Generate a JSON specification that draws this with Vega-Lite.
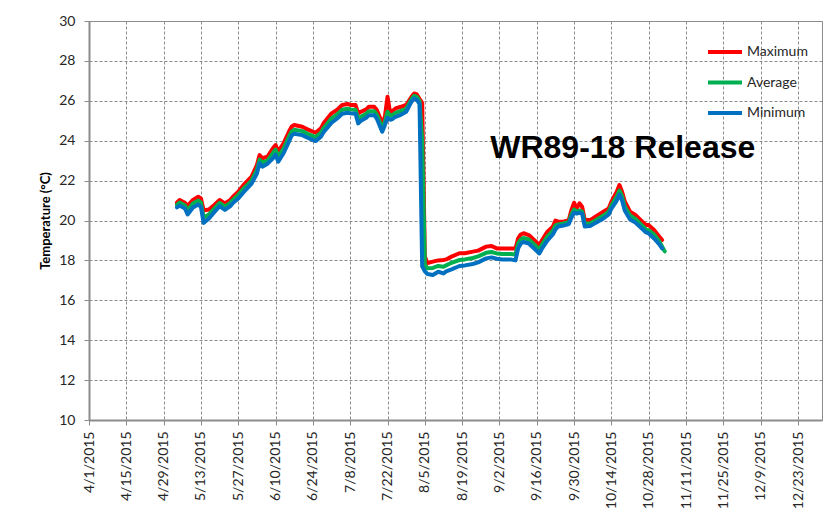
{
  "$schema": "https://vega.github.io/schema/vega-lite/v6.json",
  "width": 733,
  "height": 399,
  "autosize": {"type": "none"},
  "padding": {"left": 89, "top": 21, "right": 13, "bottom": 100},
  "background": "white",
  "config": {
    "font": "Lato",
    "view": {"stroke": "#8c8c8c", "strokeWidth": 1},
    "axis": {
      "domainColor": "#8c8c8c",
      "domainWidth": 2,
      "tickColor": "#8c8c8c",
      "tickSize": 5,
      "tickWidth": 1,
      "gridColor": "#8c8c8c",
      "gridDash": [3, 2],
      "gridWidth": 1,
      "labelColor": "#262626",
      "labelFontSize": 14,
      "labelFont": "Lato"
    }
  },
  "layer": [
    {
      "data": {
        "values": [
          {"date": "2015/05/04", "Maximum": 20.89, "Average": 20.78, "Minimum": 20.66},
          {"date": "2015/05/05", "Maximum": 21.03, "Average": 20.9, "Minimum": 20.75},
          {"date": "2015/05/07", "Maximum": 20.89, "Average": 20.75, "Minimum": 20.6},
          {"date": "2015/05/08", "Maximum": 20.73, "Average": 20.5, "Minimum": 20.3},
          {"date": "2015/05/10", "Maximum": 21.03, "Average": 20.85, "Minimum": 20.65},
          {"date": "2015/05/12", "Maximum": 21.19, "Average": 21.0, "Minimum": 20.8},
          {"date": "2015/05/13", "Maximum": 21.11, "Average": 20.9, "Minimum": 20.68},
          {"date": "2015/05/14", "Maximum": 20.5, "Average": 20.15, "Minimum": 19.88},
          {"date": "2015/05/16", "Maximum": 20.55, "Average": 20.3, "Minimum": 20.1},
          {"date": "2015/05/18", "Maximum": 20.78, "Average": 20.6, "Minimum": 20.42},
          {"date": "2015/05/20", "Maximum": 21.03, "Average": 20.88, "Minimum": 20.72},
          {"date": "2015/05/22", "Maximum": 20.86, "Average": 20.7, "Minimum": 20.53},
          {"date": "2015/05/24", "Maximum": 21.03, "Average": 20.88, "Minimum": 20.72},
          {"date": "2015/05/25", "Maximum": 21.19, "Average": 21.03, "Minimum": 20.88},
          {"date": "2015/05/27", "Maximum": 21.44, "Average": 21.28, "Minimum": 21.1},
          {"date": "2015/05/29", "Maximum": 21.78, "Average": 21.6, "Minimum": 21.42},
          {"date": "2015/06/01", "Maximum": 22.2, "Average": 22.0, "Minimum": 21.85},
          {"date": "2015/06/03", "Maximum": 22.78, "Average": 22.55, "Minimum": 22.35},
          {"date": "2015/06/04", "Maximum": 23.28, "Average": 23.05, "Minimum": 22.87},
          {"date": "2015/06/05", "Maximum": 23.12, "Average": 22.9, "Minimum": 22.7},
          {"date": "2015/06/07", "Maximum": 23.2, "Average": 23.0, "Minimum": 22.85},
          {"date": "2015/06/09", "Maximum": 23.62, "Average": 23.38, "Minimum": 23.12},
          {"date": "2015/06/10", "Maximum": 23.78, "Average": 23.55, "Minimum": 23.3},
          {"date": "2015/06/11", "Maximum": 23.45, "Average": 23.2, "Minimum": 22.95},
          {"date": "2015/06/13", "Maximum": 23.87, "Average": 23.6, "Minimum": 23.37},
          {"date": "2015/06/15", "Maximum": 24.45, "Average": 24.2, "Minimum": 23.95},
          {"date": "2015/06/16", "Maximum": 24.7, "Average": 24.45, "Minimum": 24.25},
          {"date": "2015/06/17", "Maximum": 24.79, "Average": 24.55, "Minimum": 24.35},
          {"date": "2015/06/20", "Maximum": 24.7, "Average": 24.48, "Minimum": 24.28},
          {"date": "2015/06/22", "Maximum": 24.57, "Average": 24.35, "Minimum": 24.15},
          {"date": "2015/06/25", "Maximum": 24.4, "Average": 24.18, "Minimum": 23.98},
          {"date": "2015/06/27", "Maximum": 24.62, "Average": 24.4, "Minimum": 24.2},
          {"date": "2015/06/28", "Maximum": 24.87, "Average": 24.62, "Minimum": 24.42},
          {"date": "2015/07/01", "Maximum": 25.37, "Average": 25.12, "Minimum": 24.9},
          {"date": "2015/07/03", "Maximum": 25.54, "Average": 25.3, "Minimum": 25.1},
          {"date": "2015/07/05", "Maximum": 25.79, "Average": 25.55, "Minimum": 25.35},
          {"date": "2015/07/07", "Maximum": 25.84, "Average": 25.6, "Minimum": 25.4},
          {"date": "2015/07/08", "Maximum": 25.79, "Average": 25.57, "Minimum": 25.38},
          {"date": "2015/07/10", "Maximum": 25.79, "Average": 25.55, "Minimum": 25.35},
          {"date": "2015/07/11", "Maximum": 25.37, "Average": 25.1, "Minimum": 24.87},
          {"date": "2015/07/12", "Maximum": 25.45, "Average": 25.2, "Minimum": 25.0},
          {"date": "2015/07/14", "Maximum": 25.57, "Average": 25.35, "Minimum": 25.15},
          {"date": "2015/07/15", "Maximum": 25.7, "Average": 25.48, "Minimum": 25.28},
          {"date": "2015/07/17", "Maximum": 25.7, "Average": 25.48, "Minimum": 25.28},
          {"date": "2015/07/18", "Maximum": 25.54, "Average": 25.3, "Minimum": 25.1},
          {"date": "2015/07/20", "Maximum": 24.87, "Average": 24.62, "Minimum": 24.45},
          {"date": "2015/07/21", "Maximum": 25.2, "Average": 24.95, "Minimum": 24.78},
          {"date": "2015/07/22", "Maximum": 26.2, "Average": 25.45, "Minimum": 25.15},
          {"date": "2015/07/23", "Maximum": 25.4, "Average": 25.25, "Minimum": 25.05},
          {"date": "2015/07/24", "Maximum": 25.5, "Average": 25.3, "Minimum": 25.1},
          {"date": "2015/07/25", "Maximum": 25.62, "Average": 25.4, "Minimum": 25.2},
          {"date": "2015/07/27", "Maximum": 25.7, "Average": 25.5, "Minimum": 25.3},
          {"date": "2015/07/29", "Maximum": 25.79, "Average": 25.6, "Minimum": 25.45},
          {"date": "2015/07/31", "Maximum": 26.2, "Average": 26.08, "Minimum": 25.96},
          {"date": "2015/08/01", "Maximum": 26.37, "Average": 26.25, "Minimum": 26.12},
          {"date": "2015/08/02", "Maximum": 26.32, "Average": 26.2, "Minimum": 26.05},
          {"date": "2015/08/03", "Maximum": 26.1, "Average": 26.0, "Minimum": 25.85},
          {"date": "2015/08/04", "Maximum": 25.9, "Average": 24.0, "Minimum": 17.7},
          {"date": "2015/08/05", "Maximum": 18.2, "Average": 17.8, "Minimum": 17.45},
          {"date": "2015/08/06", "Maximum": 17.86, "Average": 17.6, "Minimum": 17.32},
          {"date": "2015/08/08", "Maximum": 17.94, "Average": 17.62, "Minimum": 17.27},
          {"date": "2015/08/10", "Maximum": 18.0, "Average": 17.72, "Minimum": 17.43},
          {"date": "2015/08/12", "Maximum": 18.02, "Average": 17.68, "Minimum": 17.35},
          {"date": "2015/08/13", "Maximum": 18.05, "Average": 17.75, "Minimum": 17.45},
          {"date": "2015/08/15", "Maximum": 18.19, "Average": 17.88, "Minimum": 17.55},
          {"date": "2015/08/18", "Maximum": 18.36, "Average": 18.02, "Minimum": 17.72},
          {"date": "2015/08/20", "Maximum": 18.36, "Average": 18.05, "Minimum": 17.75},
          {"date": "2015/08/23", "Maximum": 18.44, "Average": 18.12, "Minimum": 17.82},
          {"date": "2015/08/25", "Maximum": 18.49, "Average": 18.2, "Minimum": 17.9},
          {"date": "2015/08/28", "Maximum": 18.69, "Average": 18.38, "Minimum": 18.1},
          {"date": "2015/08/30", "Maximum": 18.72, "Average": 18.42, "Minimum": 18.15},
          {"date": "2015/09/01", "Maximum": 18.6, "Average": 18.35, "Minimum": 18.08},
          {"date": "2015/09/03", "Maximum": 18.6, "Average": 18.32, "Minimum": 18.05},
          {"date": "2015/09/06", "Maximum": 18.6, "Average": 18.32, "Minimum": 18.05},
          {"date": "2015/09/08", "Maximum": 18.6, "Average": 18.3, "Minimum": 18.0},
          {"date": "2015/09/09", "Maximum": 19.1, "Average": 18.85, "Minimum": 18.6},
          {"date": "2015/09/10", "Maximum": 19.3, "Average": 19.05, "Minimum": 18.85},
          {"date": "2015/09/11", "Maximum": 19.36, "Average": 19.12, "Minimum": 18.92},
          {"date": "2015/09/13", "Maximum": 19.27, "Average": 19.05, "Minimum": 18.85},
          {"date": "2015/09/15", "Maximum": 19.02, "Average": 18.8, "Minimum": 18.6},
          {"date": "2015/09/17", "Maximum": 18.77, "Average": 18.55, "Minimum": 18.35},
          {"date": "2015/09/18", "Maximum": 19.02, "Average": 18.8, "Minimum": 18.6},
          {"date": "2015/09/20", "Maximum": 19.44, "Average": 19.2, "Minimum": 19.0},
          {"date": "2015/09/22", "Maximum": 19.69, "Average": 19.48, "Minimum": 19.3},
          {"date": "2015/09/23", "Maximum": 20.0, "Average": 19.75, "Minimum": 19.55},
          {"date": "2015/09/24", "Maximum": 19.94, "Average": 19.8, "Minimum": 19.7},
          {"date": "2015/09/26", "Maximum": 19.94, "Average": 19.85, "Minimum": 19.75},
          {"date": "2015/09/28", "Maximum": 20.02, "Average": 19.92, "Minimum": 19.82},
          {"date": "2015/09/29", "Maximum": 20.53, "Average": 20.3, "Minimum": 20.15},
          {"date": "2015/09/30", "Maximum": 20.89, "Average": 20.55, "Minimum": 20.4},
          {"date": "2015/10/01", "Maximum": 20.61, "Average": 20.45, "Minimum": 20.35},
          {"date": "2015/10/02", "Maximum": 20.86, "Average": 20.5, "Minimum": 20.4},
          {"date": "2015/10/03", "Maximum": 20.69, "Average": 20.45, "Minimum": 20.35},
          {"date": "2015/10/04", "Maximum": 20.02, "Average": 19.85, "Minimum": 19.7},
          {"date": "2015/10/06", "Maximum": 20.02, "Average": 19.85, "Minimum": 19.72},
          {"date": "2015/10/08", "Maximum": 20.19, "Average": 20.0, "Minimum": 19.88},
          {"date": "2015/10/11", "Maximum": 20.44, "Average": 20.25, "Minimum": 20.1},
          {"date": "2015/10/13", "Maximum": 20.61, "Average": 20.45, "Minimum": 20.3},
          {"date": "2015/10/14", "Maximum": 20.94, "Average": 20.75, "Minimum": 20.6},
          {"date": "2015/10/16", "Maximum": 21.44, "Average": 21.2, "Minimum": 21.0},
          {"date": "2015/10/17", "Maximum": 21.78, "Average": 21.5, "Minimum": 21.3},
          {"date": "2015/10/18", "Maximum": 21.44, "Average": 21.2, "Minimum": 21.0},
          {"date": "2015/10/19", "Maximum": 20.95, "Average": 20.7, "Minimum": 20.5},
          {"date": "2015/10/21", "Maximum": 20.44, "Average": 20.25, "Minimum": 20.05},
          {"date": "2015/10/23", "Maximum": 20.28, "Average": 20.08, "Minimum": 19.9},
          {"date": "2015/10/25", "Maximum": 20.02, "Average": 19.82, "Minimum": 19.65},
          {"date": "2015/10/27", "Maximum": 19.77, "Average": 19.55, "Minimum": 19.4},
          {"date": "2015/10/28", "Maximum": 19.77, "Average": 19.5, "Minimum": 19.35},
          {"date": "2015/10/30", "Maximum": 19.52, "Average": 19.3, "Minimum": 19.1},
          {"date": "2015/11/01", "Maximum": 19.19, "Average": 18.95, "Minimum": 18.8},
          {"date": "2015/11/02", "Maximum": 19.02, "Average": 18.7, "Minimum": 18.6},
          {"date": "2015/11/03", "Maximum": null, "Average": 18.45, "Minimum": null}
        ]
      },
      "transform": [{"fold": ["Maximum", "Average", "Minimum"], "as": ["series", "temp"]}],
      "mark": {"type": "line", "strokeWidth": 4, "strokeJoin": "round", "strokeCap": "round"},
      "encoding": {
        "x": {
          "field": "date",
          "type": "temporal",
          "scale": {"domain": [{"year": 2015, "month": 4, "date": 1}, {"year": 2016, "month": 1, "date": 1}]},
          "axis": {
            "title": null,
            "format": "%-m/%-d/%Y",
            "labelAngle": -90,
            "labelPadding": 6,
            "labelOverlap": false,
            "labelFlush": false,
            "grid": true,
            "tickCount": 40,
            "values": [
              {"year": 2015, "month": 4, "date": 1},
              {"year": 2015, "month": 4, "date": 15},
              {"year": 2015, "month": 4, "date": 29},
              {"year": 2015, "month": 5, "date": 13},
              {"year": 2015, "month": 5, "date": 27},
              {"year": 2015, "month": 6, "date": 10},
              {"year": 2015, "month": 6, "date": 24},
              {"year": 2015, "month": 7, "date": 8},
              {"year": 2015, "month": 7, "date": 22},
              {"year": 2015, "month": 8, "date": 5},
              {"year": 2015, "month": 8, "date": 19},
              {"year": 2015, "month": 9, "date": 2},
              {"year": 2015, "month": 9, "date": 16},
              {"year": 2015, "month": 9, "date": 30},
              {"year": 2015, "month": 10, "date": 14},
              {"year": 2015, "month": 10, "date": 28},
              {"year": 2015, "month": 11, "date": 11},
              {"year": 2015, "month": 11, "date": 25},
              {"year": 2015, "month": 12, "date": 9},
              {"year": 2015, "month": 12, "date": 23}
            ]
          }
        },
        "y": {
          "field": "temp",
          "type": "quantitative",
          "scale": {"domain": [10, 30], "nice": false, "zero": false},
          "axis": {
            "title": "Temperature (°C)",
            "titleFont": "Lato",
            "titleFontSize": 13,
            "titleFontWeight": "bold",
            "titleColor": "#000000",
            "titlePadding": 6,
            "labelPadding": 9,
            "format": "d",
            "tickCount": 30,
            "values": [10, 12, 14, 16, 18, 20, 22, 24, 26, 28, 30],
            "grid": true
          }
        },
        "color": {
          "field": "series",
          "type": "nominal",
          "scale": {"domain": ["Maximum", "Average", "Minimum"], "range": ["#ff0000", "#00b050", "#0070c0"]},
          "legend": {
            "title": null,
            "orient": "none",
            "legendX": 617,
            "legendY": 12,
            "symbolType": "stroke",
            "symbolSize": 1156,
            "symbolStrokeWidth": 4,
            "labelFontSize": 14,
            "labelColor": "#262626",
            "labelOffset": 3,
            "rowPadding": 3.5,
            "padding": 0
          }
        }
      }
    },
    {
      "data": {"values": [{"label": "WR89-18 Release"}]},
      "mark": {"type": "text", "font": "Liberation Sans", "fontWeight": "bold", "fontSize": 32, "align": "center", "baseline": "alphabetic", "color": "#000000"},
      "encoding": {
        "text": {"field": "label", "type": "nominal"},
        "x": {"datum": {"year": 2015, "month": 10, "date": 18, "hours": 6}, "type": "temporal"},
        "y": {"datum": 23.15, "type": "quantitative"}
      }
    }
  ]
}
